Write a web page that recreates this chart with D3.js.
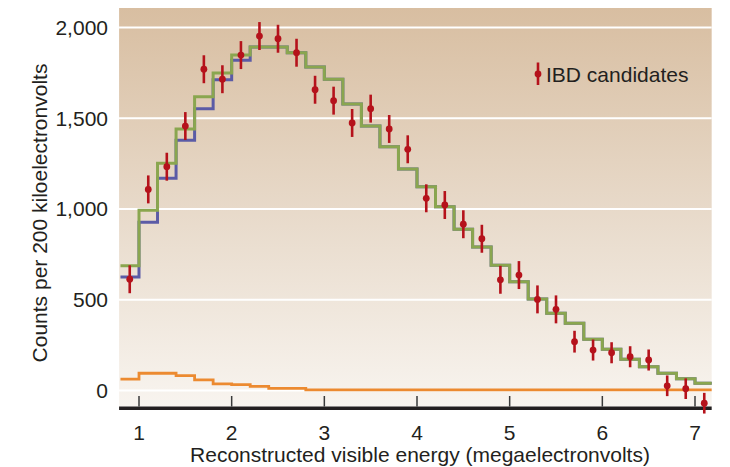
<!DOCTYPE html>
<html>
<head>
<meta charset="utf-8">
<script src="https://cdn.jsdelivr.net/npm/d3@7"></script>
<style>
  html, body { margin: 0; padding: 0; background: #fff; }
  svg text { font-family: "Liberation Sans", Arial, Helvetica, sans-serif; fill: #231f20; }
</style>
</head>
<body>
<svg id="chart" width="730" height="467"></svg>
<script>
// bin edges are 0.2 MeV wide, points sit at bin centres
const binStart = 0.8;
const binWidth = 0.2;
const yTicks = [0, 500, 1000, 1500, 2000];
const xTicks = [1, 2, 3, 4, 5, 6, 7];

// IBD candidates (data points) and their error half-lengths
const ibdCounts = [613, 1108, 1233, 1457, 1770, 1715, 1848, 1953, 1938, 1861,
                   1657, 1597, 1474, 1553, 1441, 1329, 1059, 1022, 916, 836,
                   610, 636, 502, 447, 269, 223, 208, 186, 168, 26,
                   10, -70];
const ibdErrors = [77, 77, 77, 77, 77, 77, 77, 77, 77, 77,
                   77, 77, 77, 77, 77, 77, 77, 77, 77, 77,
                   77, 77, 77, 77, 60, 58, 58, 58, 58, 57,
                   57, 57];

// prediction histograms
const greenPred = [688, 993, 1252, 1441, 1619, 1749, 1848, 1893, 1893, 1861,
                   1782, 1715, 1579, 1457, 1343, 1220, 1123, 1013, 888, 791,
                   690, 599, 504, 425, 370, 282, 227, 172, 131, 95,
                   65, 40];
const bluePred = [625, 927, 1169, 1379, 1553, 1712, 1819, 1893, 1893, 1861,
                  1782, 1715, 1579, 1457, 1343, 1220, 1123, 1013, 888, 791,
                  690, 599, 504, 425, 370, 282, 227, 172, 131, 95,
                  65, 40];
const background = [63, 95, 95, 82, 58, 37, 32, 23, 12, 12,
                    3, 3, 3, 3, 3, 3, 3, 3, 3, 3,
                    3, 3, 3, 3, 3, 3, 3, 3, 3, 3,
                    3, 3];

const svg = d3.select('#chart');

const x = d3.scaleLinear().domain([1, 7]).range([139, 695]);
const y = d3.scaleLinear().domain([0, 2000]).range([390.5, 27.5]);

const plotLeft = x(0.785), plotRight = x(7.18);
const plotTop = 8, plotBottom = 406.5;

// background gradient
const defs = svg.append('defs');
const grad = defs.append('linearGradient')
    .attr('id', 'bg').attr('x1', 0).attr('y1', 0).attr('x2', 0).attr('y2', 1);
grad.append('stop').attr('offset', '0%').attr('stop-color', '#d8bea1');
grad.append('stop').attr('offset', '55%').attr('stop-color', '#e9dccd');
grad.append('stop').attr('offset', '100%').attr('stop-color', '#f8f4ef');

defs.append('clipPath').attr('id', 'clip')
    .append('rect')
    .attr('x', plotLeft).attr('y', plotTop)
    .attr('width', plotRight - plotLeft).attr('height', plotBottom - plotTop);

svg.append('rect')
    .attr('x', plotLeft).attr('y', plotTop)
    .attr('width', plotRight - plotLeft).attr('height', plotBottom - plotTop)
    .attr('fill', 'url(#bg)');

// gridlines
svg.append('g').selectAll('line')
    .data(yTicks)
    .enter()
    .append('line')
    .attr('x1', plotLeft).attr('x2', plotRight)
    .attr('y1', d => y(d)).attr('y2', d => y(d))
    .attr('stroke', '#ffffff')
    .attr('stroke-width', 1.8);

// x ticks (short marks above axis line)
svg.append('g').selectAll('line')
    .data(xTicks)
    .enter()
    .append('line')
    .attr('x1', d => x(d)).attr('x2', d => x(d))
    .attr('y1', 396).attr('y2', plotBottom)
    .attr('stroke', '#3a3a3a')
    .attr('stroke-width', 1.5);

/**
 * turns a per-bin array into step points, with an extra closing edge
 */
function stepPoints(vals){
    let pts = vals.map((v, i) => [binStart + i * binWidth, v]);
    pts.push([binStart + vals.length * binWidth, vals[vals.length - 1]]);
    return pts;
}

const stepLine = d3.line()
    .x(d => x(d[0]))
    .y(d => y(d[1]))
    .curve(d3.curveStepAfter);

const lines = svg.append('g').attr('clip-path', 'url(#clip)');

lines.append('path')
    .datum(stepPoints(background))
    .attr('d', stepLine)
    .attr('fill', 'none')
    .attr('stroke', '#ec8a30')
    .attr('stroke-width', 2.8);

lines.append('path')
    .datum(stepPoints(bluePred))
    .attr('d', stepLine)
    .attr('fill', 'none')
    .attr('stroke', '#5b5ba6')
    .attr('stroke-width', 3);

lines.append('path')
    .datum(stepPoints(greenPred))
    .attr('d', stepLine)
    .attr('fill', 'none')
    .attr('stroke', '#8aa64f')
    .attr('stroke-width', 3);

// axis line
svg.append('line')
    .attr('x1', plotLeft).attr('x2', plotRight)
    .attr('y1', 408.3).attr('y2', 408.3)
    .attr('stroke', '#231f20')
    .attr('stroke-width', 3.6);

// data points
const pts = svg.append('g');
const ibd = ibdCounts.map((v, i) => ({e: binStart + binWidth / 2 + i * binWidth, v: v, err: ibdErrors[i]}));

pts.selectAll('line')
    .data(ibd)
    .enter()
    .append('line')
    .attr('x1', d => x(d.e)).attr('x2', d => x(d.e))
    .attr('y1', d => y(d.v - d.err)).attr('y2', d => y(d.v + d.err))
    .attr('stroke', '#b5121b')
    .attr('stroke-width', 2.6);

pts.selectAll('circle')
    .data(ibd)
    .enter()
    .append('circle')
    .attr('cx', d => x(d.e)).attr('cy', d => y(d.v))
    .attr('r', 3.4)
    .attr('fill', '#b5121b');

// tick labels
svg.append('g').selectAll('text')
    .data(yTicks)
    .enter()
    .append('text')
    .attr('x', 108)
    .attr('y', d => y(d))
    .attr('dy', '0.35em')
    .attr('text-anchor', 'end')
    .attr('font-size', 21)
    .text(d => d3.format(',')(d));

svg.append('g').selectAll('text')
    .data(xTicks)
    .enter()
    .append('text')
    .attr('x', d => x(d))
    .attr('y', 440)
    .attr('text-anchor', 'middle')
    .attr('font-size', 21)
    .text(d => d);

// axis titles
svg.append('text')
    .attr('x', 420)
    .attr('y', 462)
    .attr('text-anchor', 'middle')
    .attr('font-size', 21)
    .text('Reconstructed visible energy (megaelectronvolts)');

svg.append('text')
    .attr('transform', 'translate(47,213) rotate(-90)')
    .attr('text-anchor', 'middle')
    .attr('font-size', 21)
    .text('Counts per 200 kiloelectronvolts');

// legend
const leg = svg.append('g');
leg.append('line')
    .attr('x1', 538).attr('x2', 538)
    .attr('y1', 62.5).attr('y2', 85)
    .attr('stroke', '#b5121b')
    .attr('stroke-width', 2.6);
leg.append('circle')
    .attr('cx', 538).attr('cy', 74)
    .attr('r', 3.4)
    .attr('fill', '#b5121b');
leg.append('text')
    .attr('x', 546)
    .attr('y', 81.5)
    .attr('font-size', 21)
    .text('IBD candidates');
</script>
</body>
</html>
